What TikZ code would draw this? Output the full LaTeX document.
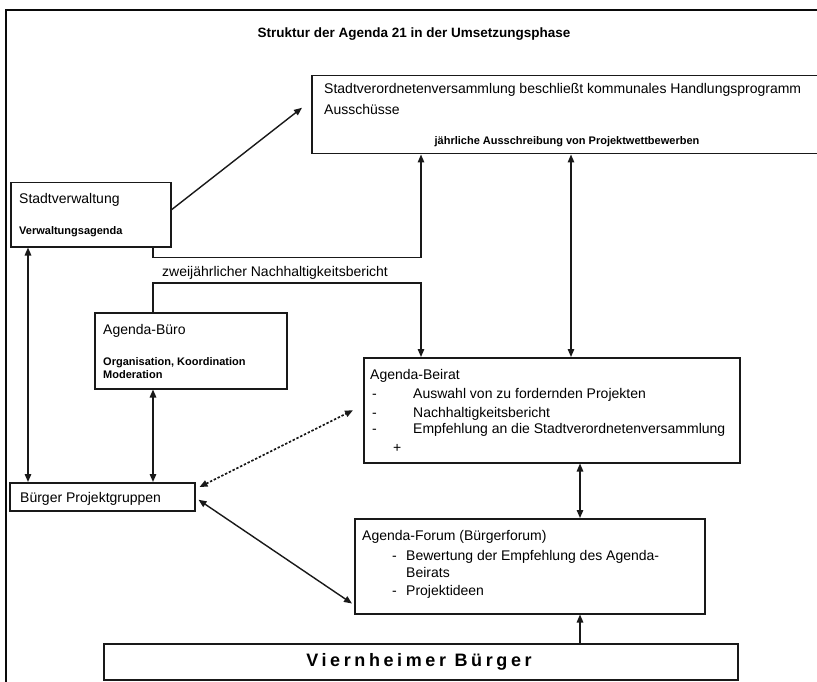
\documentclass[tikz,border=0pt]{standalone}
\usepackage{fontspec}
\setmainfont{Liberation Sans}
\newfontfamily\spaced[LetterSpace=20]{Liberation Sans}
\usetikzlibrary{arrows.meta,calc}
\definecolor{ink}{RGB}{25,25,25}
\definecolor{rim}{RGB}{10,10,10}
\tikzset{
  box/.style={draw=ink,line width=1.5pt,anchor=north west,inner sep=0pt},
  txt/.style={anchor=base west,inner sep=0pt,text=black,font=\fontsize{14}{16}\selectfont},
  note/.style={txt,font=\bfseries\fontsize{11}{13}\selectfont},
  arr/.style={-{Triangle[length=8pt,width=6.5pt]},line width=1.4pt,draw=ink},
  dbl/.style={{Triangle[length=8pt,width=6.5pt]}-{Triangle[length=8pt,width=6.5pt]},line width=1.4pt,draw=ink},
  dots/.style={dbl,line width=1.7pt,dash pattern=on 2.4pt off 1.8pt},
}

\begin{document}
\begin{tikzpicture}[x=1pt,y=-1pt]
  \useasboundingbox (0,0) rectangle (817,682);
  \clip (0,0) rectangle (817,682);
  \fill[white] (0,0) rectangle (817,682);
  \draw[rim,line width=2.6pt] (6,700) -- (6,10) -- (830,10);

  \node[txt,anchor=base,font=\bfseries\fontsize{13.5}{16}\selectfont] (title) at (414,38)
     {Struktur der Agenda 21 in der Umsetzungsphase};

  % Stadtverordnetenversammlung
  \node[box,minimum width=509pt,minimum height=78pt] (sv) at (311,75) {};
  \node[txt] (sv-1) at (324,94) {Stadtverordnetenversammlung beschließt kommunales Handlungsprogramm};
  \node[txt] (sv-2) at (324,115) {Ausschüsse};
  \node[note,anchor=base] (sv-3) at (567,145) {jährliche Ausschreibung von Projektwettbewerben};

  % Stadtverwaltung
  \node[box,minimum width=160pt,minimum height=64pt] (verw) at (10,182) {};
  \node[txt] (verw-1) at (19,204) {Stadtverwaltung};
  \node[note] (verw-2) at (19,234) {Verwaltungsagenda};

  \node[txt] (bericht) at (162,276) {zweijährlicher Nachhaltigkeitsbericht};

  % Agenda-Buero
  \node[box,minimum width=192pt,minimum height=76pt] (buero) at (94,312) {};
  \node[txt] (buero-1) at (103,334) {Agenda-Büro};
  \node[note] (buero-2) at (103,365) {Organisation, Koordination};
  \node[note] (buero-3) at (103,378) {Moderation};

  % Agenda-Beirat
  \node[box,minimum width=376pt,minimum height=105pt] (rat) at (363,357) {};
  \node[txt] (rat-0) at (370,379) {Agenda-Beirat};
  \foreach \y/\t [count=\i] in {398/Auswahl von zu fordernden Projekten,
      417/Nachhaltigkeitsbericht, 433/Empfehlung an die Stadtverordnetenversammlung} {
    \node[txt] (rat-b\i) at (372,\y) {-};
    \node[txt] (rat-i\i) at (413,\y) {\t};
  }
  \node[txt] (rat-plus) at (393,452) {+};

  % Buerger Projektgruppen
  \node[box,minimum width=185pt,minimum height=28pt] (buerger) at (9,482) {};
  \node[txt] (buerger-1) at (20,502) {Bürger Projektgruppen};

  % Agenda-Forum
  \node[box,minimum width=350pt,minimum height=95pt] (forum) at (354,518) {};
  \node[txt] (forum-0) at (362,540) {Agenda-Forum (Bürgerforum)};
  \node[txt] (forum-b1) at (392,560) {-};
  \node[txt] (forum-i1) at (406,560) {Bewertung der Empfehlung des Agenda-};
  \node[txt] (forum-i1b) at (406,577) {Beirats};
  \node[txt] (forum-b2) at (392,595) {-};
  \node[txt] (forum-i2) at (406,595) {Projektideen};

  % Viernheimer Buerger
  \node[box,minimum width=634pt,minimum height=36pt] (vb) at (103,643) {};
  \node[txt,anchor=base,font=\spaced\bfseries\fontsize{18}{20}\selectfont] (vb-1) at (419,666)
     {Viernheimer Bürger};

  % connectors
  \draw[arr] ([yshift=5pt]verw.east) -- ([xshift=-9pt,yshift=7pt]sv.west);
  \draw[arr] ([xshift=143pt]verw.south west) -- ++(0,10) -| ([xshift=110pt]sv.south west);
  \draw[arr] ([xshift=59pt]buero.north west) -- ++(0,-29) -| ([xshift=58pt]rat.north west);

  \coordinate (c-sv) at ([xshift=208pt]rat.north west);
  \draw[dbl] (c-sv) -- (c-sv |- sv.south);
  \coordinate (c-left) at ([xshift=18pt]verw.south west);
  \draw[dbl] (c-left) -- (c-left |- buerger.north);
  \coordinate (c-buero) at ([xshift=59pt]buero.south west);
  \draw[dbl] (c-buero) -- (c-buero |- buerger.north);

  \draw[dots] ([xshift=4pt,yshift=-5pt]buerger.north east) -- ([xshift=-10pt]rat.west);
  \draw[dbl] ([xshift=3pt,yshift=-3pt]buerger.east) -- ([xshift=-2pt,yshift=11pt]forum.south west);

  \coordinate (c-forum) at ([xshift=217pt]rat.south west);
  \draw[dbl] (c-forum) -- (c-forum |- forum.north);
  \coordinate (c-vb) at ([xshift=477pt]vb.north west);
  \draw[arr] (c-vb) -- (c-vb |- forum.south);
\end{tikzpicture}
\end{document}
